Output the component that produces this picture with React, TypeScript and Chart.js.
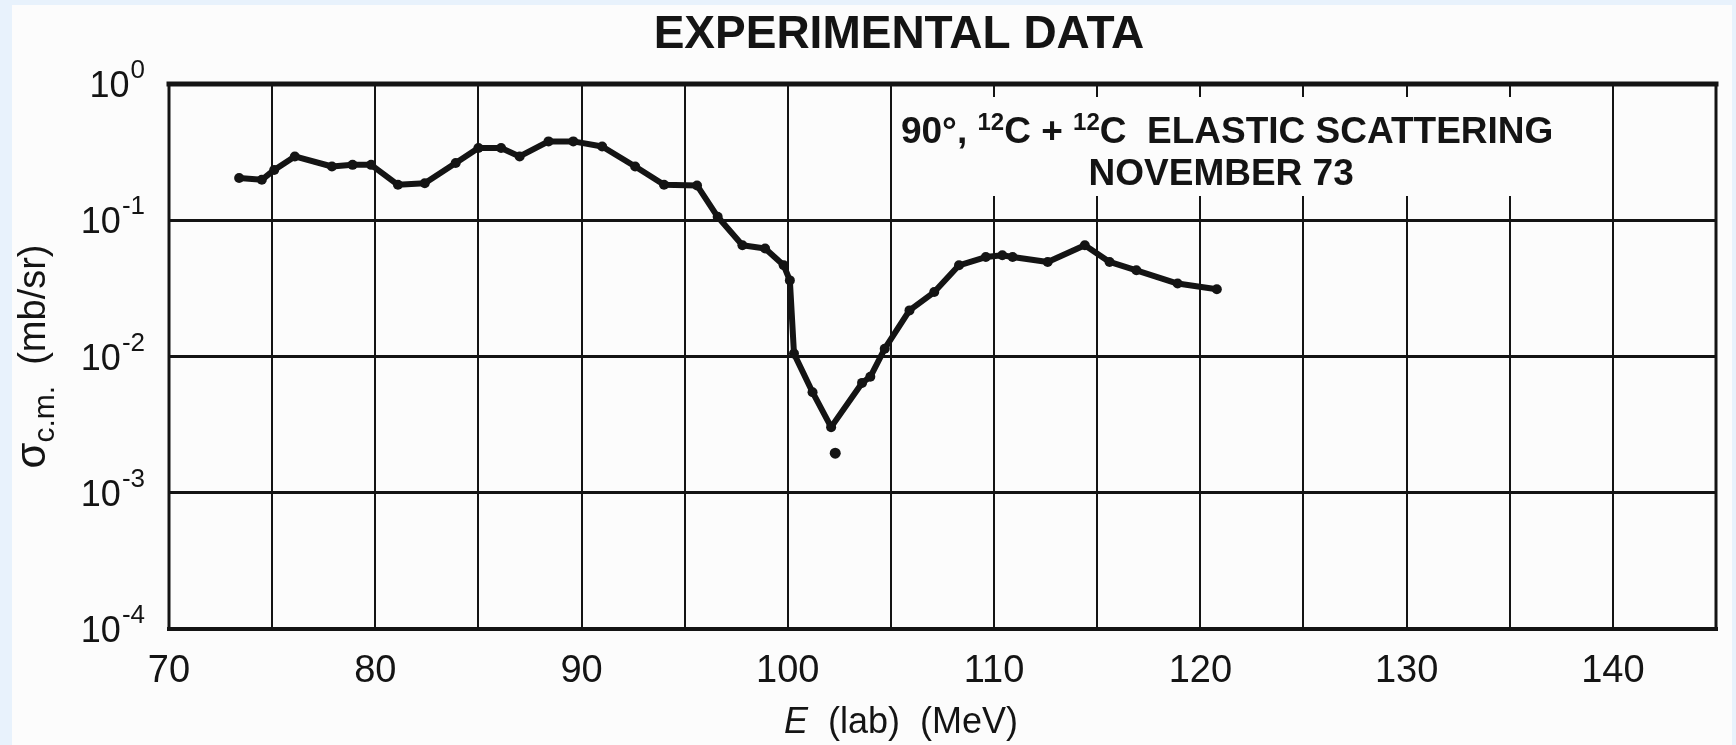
import React, { useEffect, useRef } from 'react';
import { Chart, registerables } from 'chart.js';

Chart.register(...registerables);

const FONT = "'Liberation Sans', Arial, 'DejaVu Sans', sans-serif";
const INK = '#141414';
const PAPER = '#fcfcfc';
const FRAME_BLUE = '#e8f2fc';

// ---- texts ----
const chartTitle = 'EXPERIMENTAL DATA';
const noteLine1 = ['90°, ', '12', 'C + ', '12', 'C  ELASTIC SCATTERING'];
const noteLine2 = 'NOVEMBER 73';
const xAxisVar = 'E';
const xAxisRest = '  (lab)  (MeV)';
const yAxisSymbol = 'σ';
const yAxisSub = 'c.m.';
const yAxisUnit = '  (mb/sr)';

// ---- data ----
const energyMeV = [
  73.4, 74.5, 75.1, 76.1, 77.9, 78.9, 79.8, 81.1, 82.4, 83.9,
  85.0, 86.1, 87.0, 88.4, 89.6, 91.0, 92.6, 94.0, 95.6, 96.6,
  97.8, 98.9, 99.8, 100.1, 100.3, 101.2, 102.1, 103.6, 104.0, 104.7,
  105.9, 107.1, 108.3, 109.6, 110.4, 110.9, 112.6, 114.4, 115.6, 116.9,
  118.9, 120.8,
];
const sigmaMbSr = [
  0.204, 0.198, 0.234, 0.294, 0.248, 0.255, 0.255, 0.182, 0.187, 0.263,
  0.339, 0.339, 0.294, 0.379, 0.379, 0.348, 0.248, 0.182, 0.18, 0.106,
  0.0655, 0.062, 0.0467, 0.0362, 0.0105, 0.00547, 0.00303, 0.0064, 0.0071, 0.0114,
  0.0218, 0.0297, 0.0467, 0.0537, 0.0553, 0.0537, 0.0494, 0.0655, 0.0494, 0.0429,
  0.0343, 0.0312,
];
const strayEnergyMeV = [102.3];
const straySigmaMbSr = [0.00195];

// ---- axes ----
const xMin = 70;
const xMax = 145;
const xGridStep = 5;
const xLabelStep = 10;
const yDecadeTicks = [1, 0.1, 0.01, 0.001, 0.0001];

function drawRuns(
  ctx: CanvasRenderingContext2D,
  runs: { t: string; font: string; dy?: number }[],
  cx: number,
  baseline: number
) {
  let total = 0;
  const widths = runs.map((r) => {
    ctx.font = r.font;
    const w = ctx.measureText(r.t).width;
    total += w;
    return w;
  });
  let x = cx - total / 2;
  ctx.textAlign = 'left';
  ctx.textBaseline = 'alphabetic';
  runs.forEach((r, i) => {
    ctx.font = r.font;
    ctx.fillText(r.t, x, baseline + (r.dy || 0));
    x += widths[i];
  });
}

const decorPlugin = {
  id: 'decor',
  beforeDatasetsDraw(chart: any) {
    const { ctx, chartArea: a, scales } = chart;
    ctx.save();
    // blank patch behind the annotation (grid interrupted there)
    const x0 = scales.x.getPixelForValue(105.6);
    const x1 = scales.x.getPixelForValue(137.5);
    ctx.fillStyle = PAPER;
    ctx.fillRect(x0, a.top + 13, x1 - x0, 99);
    // frame
    ctx.strokeStyle = INK;
    ctx.lineCap = 'square';
    ctx.lineWidth = 5;
    ctx.beginPath();
    ctx.moveTo(a.left, a.top);
    ctx.lineTo(a.right, a.top);
    ctx.stroke();
    ctx.lineWidth = 4;
    ctx.beginPath();
    ctx.moveTo(a.left, a.bottom);
    ctx.lineTo(a.right, a.bottom);
    ctx.stroke();
    ctx.lineWidth = 3;
    ctx.beginPath();
    ctx.moveTo(a.left, a.top);
    ctx.lineTo(a.left, a.bottom);
    ctx.moveTo(a.right, a.top);
    ctx.lineTo(a.right, a.bottom);
    ctx.stroke();
    ctx.restore();
  },
  afterDraw(chart: any) {
    const { ctx, chartArea: a, scales } = chart;
    ctx.save();
    ctx.fillStyle = INK;

    // y tick labels 10^n, positioned by the log scale
    const yScale = scales.y;
    const labelRight = a.left - 24;
    yScale.ticks.forEach((tk: any) => {
      const y = yScale.getPixelForValue(tk.value);
      const e = Math.round(Math.log10(tk.value));
      const expText = e === 0 ? '0' : '-' + Math.abs(e);
      ctx.textBaseline = 'alphabetic';
      ctx.textAlign = 'right';
      ctx.font = `26px ${FONT}`;
      const ew = ctx.measureText(expText).width;
      ctx.fillText(expText, labelRight, y + 13 - 19);
      ctx.font = `36px ${FONT}`;
      ctx.fillText('10', labelRight - ew - 1, y + 13);
    });

    // title
    drawRuns(ctx, [{ t: chartTitle, font: `bold 46px ${FONT}` }], 899, 48);

    // annotation
    const nx = scales.x.getPixelForValue(121.3);
    drawRuns(
      ctx,
      [
        { t: noteLine1[0], font: `bold 37px ${FONT}` },
        { t: noteLine1[1], font: `bold 24px ${FONT}`, dy: -13 },
        { t: noteLine1[2], font: `bold 37px ${FONT}` },
        { t: noteLine1[3], font: `bold 24px ${FONT}`, dy: -13 },
        { t: noteLine1[4], font: `bold 37px ${FONT}` },
      ],
      nx,
      143
    );
    drawRuns(ctx, [{ t: noteLine2, font: `bold 37px ${FONT}` }], nx - 6, 185);

    // x axis title
    drawRuns(
      ctx,
      [
        { t: xAxisVar, font: `italic 36px ${FONT}` },
        { t: xAxisRest, font: `36px ${FONT}` },
      ],
      901,
      733
    );

    // y axis title (rotated)
    ctx.translate(33, (a.top + a.bottom) / 2);
    ctx.rotate(-Math.PI / 2);
    drawRuns(
      ctx,
      [
        { t: yAxisSymbol, font: `42px ${FONT}` },
        { t: yAxisSub, font: `30px ${FONT}`, dy: 9 },
        { t: yAxisUnit, font: `38px ${FONT}` },
      ],
      0,
      12
    );
    ctx.restore();
  },
};

export default function App() {
  const canvasRef = useRef<HTMLCanvasElement | null>(null);

  useEffect(() => {
    const canvas = canvasRef.current;
    if (!canvas) return;
    const chart = new Chart(canvas, {
      type: 'line',
      data: {
        datasets: [
          {
            label: '90° 12C + 12C elastic scattering',
            data: energyMeV.map((e, i) => ({ x: e, y: sigmaMbSr[i] })),
            borderColor: INK,
            backgroundColor: INK,
            borderWidth: 6,
            pointRadius: 5,
            pointBackgroundColor: INK,
            pointBorderColor: INK,
            pointBorderWidth: 0,
            tension: 0,
            borderJoinStyle: 'round',
            borderCapStyle: 'round',
            fill: false,
          },
          {
            label: 'stray point',
            data: strayEnergyMeV.map((e, i) => ({ x: e, y: straySigmaMbSr[i] })),
            showLine: false,
            pointRadius: 5.5,
            pointBackgroundColor: INK,
            pointBorderColor: INK,
            pointBorderWidth: 0,
          },
        ],
      },
      options: {
        responsive: false,
        maintainAspectRatio: false,
        animation: false,
        layout: { padding: { top: 84, right: 15, left: 0, bottom: 0 } },
        plugins: {
          legend: { display: false },
          tooltip: { enabled: false },
          title: { display: false },
        },
        scales: {
          x: {
            type: 'linear',
            position: 'bottom',
            min: xMin,
            max: xMax,
            ticks: {
              stepSize: xGridStep,
              autoSkip: false,
              maxRotation: 0,
              padding: 20,
              color: INK,
              font: { family: FONT, size: 38 },
              callback: (v: any) => (Number(v) % xLabelStep === 0 ? String(v) : ''),
            },
            grid: { color: INK, lineWidth: 2, drawTicks: false },
            border: { display: false },
            afterFit: (s: any) => {
              s.height = 116;
            },
          },
          y: {
            type: 'logarithmic',
            position: 'left',
            min: 0.0001,
            max: 1,
            afterBuildTicks: (s: any) => {
              s.ticks = yDecadeTicks.map((v) => ({ value: v }));
            },
            ticks: { display: false },
            grid: { color: INK, lineWidth: 3, drawTicks: false },
            border: { display: false },
            afterFit: (s: any) => {
              s.width = 169;
            },
          },
        },
      },
      plugins: [decorPlugin],
    });
    return () => chart.destroy();
  }, []);

  return (
    <div
      style={{
        position: 'fixed',
        left: 0,
        top: 0,
        width: 1736,
        height: 745,
        background: FRAME_BLUE,
        overflow: 'hidden',
      }}
    >
      <div
        style={{
          position: 'absolute',
          left: 12,
          top: 5,
          right: 4,
          bottom: 0,
          background: PAPER,
        }}
      />
      <canvas
        ref={canvasRef}
        width={1736}
        height={745}
        style={{ position: 'absolute', left: 0, top: 0, display: 'block' }}
      />
    </div>
  );
}
